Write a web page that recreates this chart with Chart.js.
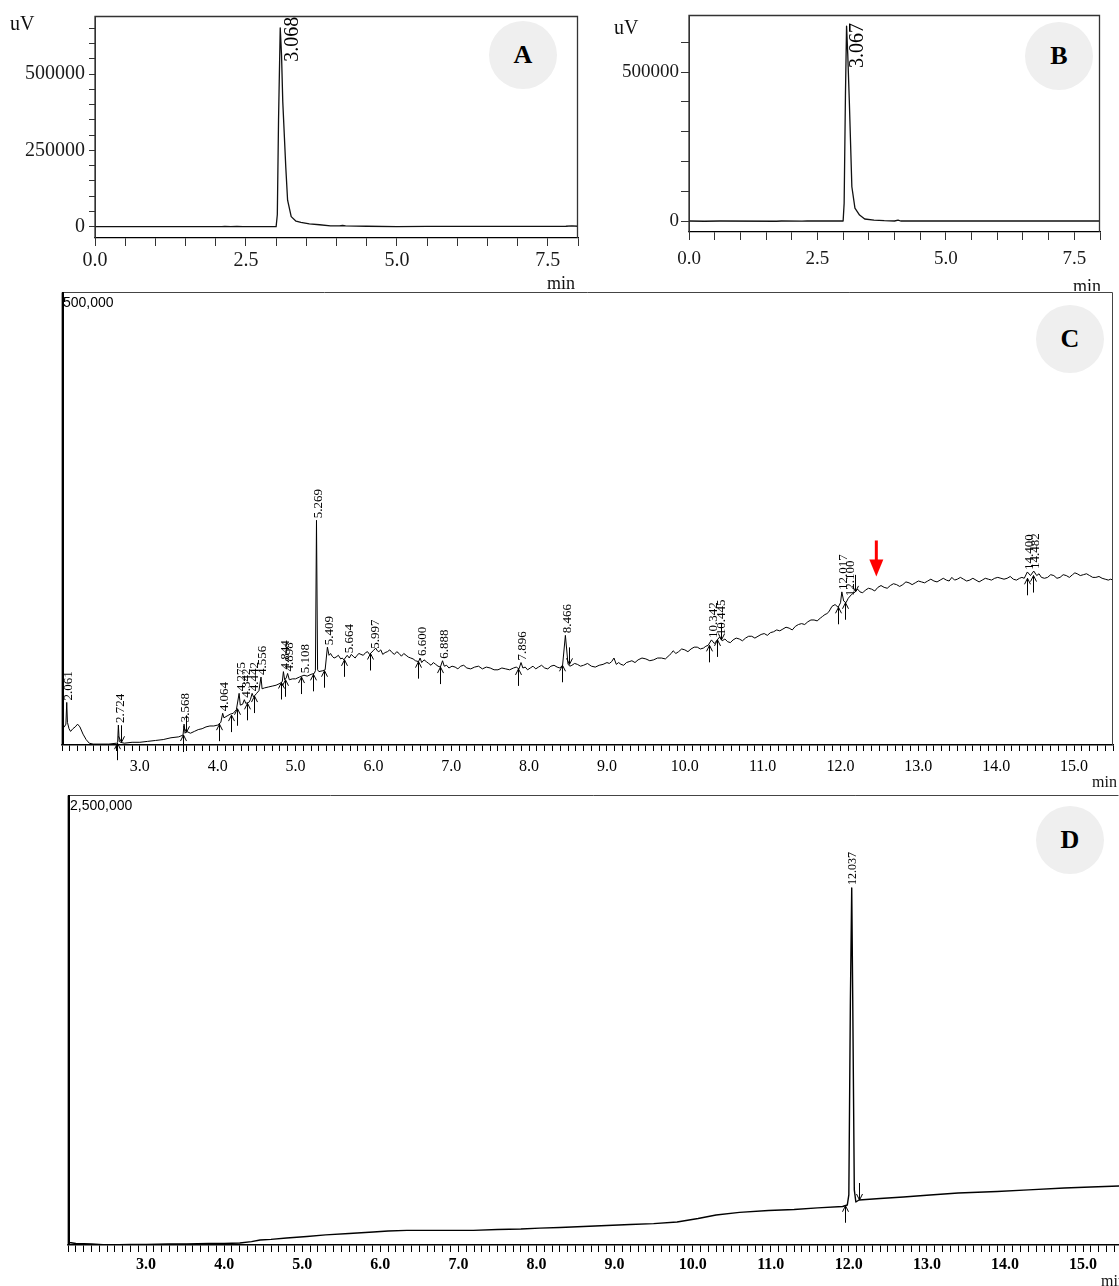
<!DOCTYPE html>
<html><head><meta charset="utf-8">
<script src="https://cdn.jsdelivr.net/npm/chart.js@4.4.1/dist/chart.umd.min.js"></script>
<style>
html,body{margin:0;padding:0;background:#fff;}
body{width:1119px;height:1286px;position:relative;overflow:hidden;font-family:"Liberation Serif","Times New Roman",serif;}
canvas{position:absolute;}
.t{position:absolute;color:#111;white-space:nowrap;line-height:1;}
.sans{font-family:"Liberation Sans",Arial,sans-serif;color:#000;}
.clip{position:absolute;overflow:hidden;}
.circ{position:absolute;border-radius:50%;background:#efefef;display:flex;align-items:center;justify-content:center;font-weight:bold;font-size:26px;color:#000;}
</style></head><body>
<div class="circ" style="left:489px;top:21px;width:68px;height:68px">A</div>
<div class="circ" style="left:1025px;top:22px;width:68px;height:68px">B</div>
<div class="circ" style="left:1036px;top:305px;width:68px;height:68px">C</div>
<div class="circ" style="left:1036px;top:806px;width:68px;height:68px">D</div>

<canvas id="cA" width="600" height="290" style="left:0;top:0"></canvas>
<canvas id="cB" width="519" height="290" style="left:600px;top:0"></canvas>
<canvas id="cC" width="1119" height="500" style="left:0;top:290px"></canvas>
<canvas id="cD" width="1119" height="496" style="left:0;top:790px"></canvas>

<div class="t" style="left:10px;top:13px;font-size:20px">uV</div>
<div class="t" style="left:547px;top:274px;font-size:18px">min</div>
<div class="t" style="left:614px;top:17px;font-size:20px">uV</div>
<div class="clip" style="left:1068px;top:270px;width:51px;height:21px"><div class="t" style="left:5px;top:7px;font-size:18px">min</div></div>
<div class="t sans" style="left:63px;top:295px;font-size:14px">500,000</div>
<div class="t" style="left:1092px;top:774px;font-size:16px">min</div>
<div class="t sans" style="left:70px;top:798px;font-size:14px">2,500,000</div>
<div class="t" style="left:1101px;top:1273px;font-size:16px">min</div>

<script>
// ---------------- DATA ----------------
// Panel A (uV vs min)
const aTimes  = [0,1.0,2.1,2.15,2.25,2.35,2.45,3.00,3.02,3.04,3.068,3.09,3.11,3.16,3.19,3.25,3.33,3.41,3.55,3.72,3.9,4.05,4.1,4.15,4.5,5.0,5.5,6.5,7.5,7.8,7.9,8.0];
const aValues = [0,0,0,1200,0,1000,0,0,40000,350000,652000,560000,410000,195000,87000,33000,18000,14000,9000,6500,3000,2500,4000,2500,1500,500,1000,1000,1000,1500,2500,1500];
const aPeakTimes = [3.068];
const aPeakHeights = [652000];

// Panel B (uV vs min)
const bTimes  = [0,0.3,0.6,1.7,1.8,2.2,2.3,3.00,3.02,3.045,3.067,3.09,3.12,3.17,3.23,3.32,3.42,3.6,3.8,4.0,4.07,4.12,5.0,6.0,7.0,8.0];
const bValues = [0,-800,0,-800,0,-600,0,0,60000,420000,654000,560000,406000,115000,43000,20000,6700,3000,1000,0,3000,0,0,0,0,0];
const bPeakTimes = [3.067];
const bPeakHeights = [654000];

// Panel C (thousands of uV vs min)
const cTimes = [
 2.000,2.006,2.012,2.03,2.05,2.061,2.07,2.09,2.11,2.14,
 2.17,2.20,2.23,2.27,2.31,2.35,2.40,2.50,2.60,2.70,
 2.715,2.724,2.735,2.75,2.80,2.90,3.00,3.10,3.20,3.30,
 3.40,3.50,3.555,3.568,3.58,3.60,3.65,3.70,3.75,3.80,
 3.85,3.90,3.95,4.00,4.04,4.064,4.08,4.12,4.16,4.20,
 4.24,4.275,4.29,4.32,4.342,4.36,4.40,4.42,4.442,4.46,
 4.50,4.53,4.556,4.57,4.60,4.65,4.70,4.75,4.80,4.83,
 4.844,4.86,4.88,4.898,4.92,4.96,5.00,5.05,5.108,5.15,
 5.20,5.24,5.255,5.269,5.283,5.30,5.35,5.38,5.409,5.43,
 5.45,5.47,5.495,5.52,5.55,5.58,5.60,5.62,5.664,5.69,
 5.715,5.74,5.765,5.79,5.815,5.84,5.87,5.90,5.925,5.95,
 5.997,6.03,6.05,6.07,6.095,6.12,6.15,6.18,6.21,6.24,
 6.27,6.30,6.33,6.36,6.39,6.42,6.45,6.48,6.51,6.54,
 6.58,6.600,6.62,6.65,6.68,6.71,6.74,6.77,6.80,6.83,
 6.86,6.888,6.91,6.94,6.97,7.01,7.05,7.085,7.12,7.16,
 7.20,7.25,7.30,7.35,7.40,7.45,7.50,7.55,7.60,7.65,
 7.70,7.75,7.80,7.835,7.87,7.896,7.92,7.95,7.98,8.015,
 8.05,8.085,8.12,8.16,8.20,8.24,8.28,8.32,8.36,8.395,
 8.43,8.466,8.50,8.525,8.55,8.585,8.62,8.66,8.70,8.75,
 8.80,8.85,8.90,8.95,9.00,9.03,9.06,9.09,9.12,9.15,
 9.18,9.215,9.25,9.285,9.32,9.36,9.40,9.45,9.50,9.55,
 9.60,9.65,9.70,9.75,9.80,9.825,9.85,9.885,9.92,9.96,
 10.00,10.04,10.08,10.12,10.16,10.20,10.24,10.27,10.30,10.342,
 10.38,10.445,10.48,10.515,10.55,10.585,10.62,10.66,10.70,10.74,
 10.78,10.82,10.86,10.90,10.94,10.98,11.02,11.06,11.10,11.14,
 11.18,11.22,11.26,11.30,11.34,11.38,11.42,11.46,11.50,11.54,
 11.58,11.62,11.66,11.70,11.74,11.77,11.80,11.825,11.85,11.87,
 11.89,11.93,11.97,12.00,12.017,12.04,12.07,12.100,12.14,12.19,
 12.22,12.25,12.285,12.32,12.36,12.40,12.44,12.48,12.52,12.56,
 12.60,12.64,12.68,12.72,12.76,12.80,12.84,12.88,12.92,12.96,
 13.00,13.04,13.08,13.12,13.16,13.20,13.24,13.28,13.32,13.36,
 13.395,13.43,13.465,13.50,13.54,13.58,13.62,13.66,13.70,13.74,
 13.78,13.82,13.86,13.90,13.94,13.98,14.02,14.06,14.10,14.14,
 14.18,14.22,14.26,14.30,14.33,14.36,14.400,14.44,14.482,14.52,
 14.55,14.58,14.62,14.66,14.70,14.74,14.78,14.82,14.86,14.90,
 14.94,14.98,15.01,15.04,15.08,15.12,15.16,15.20,15.24,15.28,
 15.32,15.36,15.40,15.44,15.47,15.50];
const cValuesK = [
 14,149,19,20,23,47,25,18,15,18,
 20,23,20,12,6,2,1,1,1,2,
 3,22,4,3,2,3,3,4,5,6,
 8,9,11,23,13,15,13,15,17,18,
 20,21,21,22,25,35,30,32,34,35,
 39,57,44,45,50,46,47,50,57,53,
 57,60,75,62,63,64,65,66,68,70,
 81,72,74,79,72,73,73,75,77,76,
 78,79,82,248,83,81,82,83,108,99,
 101,98,96,97,99,95,96,94,99,96,
 100,98,96,99,101,100,99,102,103,100,
 104,107,104,103,105,100,102,103,105,102,
 100,103,101,98,101,99,97,96,95,93,
 92,96,91,94,92,90,88,91,89,87,
 86,93,87,88,85,87,86,84,87,88,
 85,84,86,87,84,86,85,83,83,85,
 84,83,85,86,84,91,85,86,83,85,
 87,84,86,88,85,84,87,88,86,85,
 88,121,89,87,88,90,89,87,88,90,
 87,86,88,89,91,90,92,96,89,91,
 89,88,91,92,93,91,94,96,95,93,
 94,96,96,95,99,101,104,101,103,106,
 105,103,106,108,108,106,107,109,110,116,
 112,119,115,117,114,113,116,118,117,115,
 118,120,120,118,120,122,123,121,124,125,
 127,126,128,130,129,127,131,133,134,133,
 136,138,138,137,140,142,144,145,147,150,
 153,155,152,157,169,159,157,162,166,169,
 172,169,168,171,173,172,170,174,176,174,
 173,176,178,177,175,177,180,179,177,179,
 181,180,179,181,183,181,180,182,184,182,
 181,185,182,183,185,183,181,182,184,182,
 180,182,184,183,182,184,185,184,183,184,
 186,183,182,184,185,184,191,187,192,187,
 189,185,184,185,188,187,184,185,188,187,
 185,188,190,189,187,188,189,187,185,185,
 186,184,183,182,183,182];
const cPeakTimes = [2.061,2.724,3.568,4.064,4.275,4.342,4.442,4.556,4.844,4.898,5.108,5.269,5.409,5.664,5.997,6.600,6.888,7.896,8.466,10.342,10.445,12.017,12.100,14.400,14.482];
const cPeakHeightsK = [47,22,23,35,57,50,57,75,81,79,77,248,108,99,104,96,93,91,121,116,119,169,162,191,192];
const cMarkTimes = [2.71,2.76,3.55,3.59,4.02,4.17,4.25,4.37,4.47,4.81,4.86,5.07,5.22,5.37,5.62,5.96,6.57,6.86,7.86,8.42,8.51,10.31,10.41,10.47,11.97,12.06,12.19,14.39,14.47];
const cMarkValuesK = [2,3,11,14,23,33,40,46,54,69,72,75,78,82,94,101,92,86,84,88,89,110,116,116,152,157,169,184,187];
const cMarkDirs = ['u','d','u','d','u','u','u','u','u','u','u','u','u','u','u','u','u','u','u','u','d','u','u','d','u','u','d','u','u'];
const cArrow = {t:12.46, vK:186};

// Panel D (thousands of uV vs min)
const dTimes = [
 2.00,2.02,2.10,2.30,2.50,2.80,3.00,3.30,3.52,3.80,
 4.00,4.20,4.35,4.46,4.60,4.80,5.06,5.30,5.60,5.91,
 6.10,6.34,6.60,6.90,7.19,7.50,7.80,8.04,8.30,8.60,
 8.90,9.20,9.50,9.80,10.07,10.30,10.60,10.97,11.30,11.60,
 11.92,11.98,12.00,12.02,12.037,12.05,12.07,12.09,12.13,12.40,
 12.70,13.04,13.40,13.90,14.30,14.76,15.10,15.50];
const dValuesK = [
 39,14,8,6,0,3,3,6,6,8,
 8,11,19,28,31,39,47,56,64,72,
 78,81,81,81,81,86,89,94,97,103,
 108,114,119,128,147,167,181,192,197,206,
 214,222,278,1361,1983,1361,306,239,250,258,
 267,278,289,297,306,317,322,328];
const dPeakTimes = [12.037];
const dPeakHeightsK = [1983];
const dMarkTimes = [11.95,12.13];
const dMarkValuesK = [218,250];
const dMarkDirs = ['u','d'];

// Axis ticks
const abXLabelTicks = [0,2.5,5,7.5];
const abXTickStep = 0.5;
const aYLabelTicks = [0,250000,500000];
const aYTickStep = 50000;
const bYLabelTicks = [0,500000];
const bYTickStep = 100000;
const cdXLabelTicks = [3,4,5,6,7,8,9,10,11,12,13,14,15];
const cdXTickStep = 0.1;

// ---------------- HELPERS ----------------
function range(a,b,step){const out=[];const n=Math.round((b-a)/step);for(let i=0;i<=n;i++){out.push(Math.round((a+i*step)*1000)/1000);}return out;}

function chromoPlugin(o){
  return {id:'chromo_'+o.key, afterDraw(chart){
    const ctx=chart.ctx, a=chart.chartArea, xs=chart.scales.x, ys=chart.scales.y;
    ctx.save();
    ctx.strokeStyle=o.frameColor; ctx.lineWidth=o.frameWidth;
    ctx.beginPath();
    ctx.moveTo(a.left,a.bottom); ctx.lineTo(a.left,a.top+0.5); ctx.lineTo(a.right-0.5,a.top+0.5);
    if(o.rightBorder){ctx.lineTo(a.right-0.5,a.bottom);}
    ctx.stroke();
    if(o.leftWidth){ctx.strokeStyle='#000';ctx.lineWidth=o.leftWidth;ctx.beginPath();ctx.moveTo(a.left+o.leftWidth/2,a.top);ctx.lineTo(a.left+o.leftWidth/2,a.bottom);ctx.stroke();}
    if(o.marks){
      ctx.strokeStyle='#000'; ctx.lineWidth=1;
      o.marks.times.forEach((t,i)=>{
        const x=Math.round(xs.getPixelForValue(t))+0.5, y=ys.getPixelForValue(o.marks.values[i]*o.scaleMul);
        const s=o.marks.dirs[i]==='u'?1:-1;
        ctx.beginPath();
        ctx.moveTo(x,y+s*17); ctx.lineTo(x,y);
        ctx.moveTo(x-3,y+s*6); ctx.lineTo(x,y); ctx.lineTo(x+3,y+s*6);
        ctx.stroke();
      });
    }
    ctx.fillStyle='#000'; ctx.font=o.labelFont; ctx.textAlign='left'; ctx.textBaseline='middle';
    o.peaks.times.forEach((t,i)=>{
      const x=xs.getPixelForValue(t)+o.labelDx, y=ys.getPixelForValue(o.peaks.heights[i]*o.scaleMul)+o.labelDy;
      ctx.save(); ctx.translate(x,y); ctx.rotate(-Math.PI/2); ctx.fillText(t.toFixed(3),0,0); ctx.restore();
    });
    if(o.arrow){
      const x=xs.getPixelForValue(o.arrow.t), y=ys.getPixelForValue(o.arrow.vK*o.scaleMul);
      ctx.strokeStyle='#ff0000'; ctx.fillStyle='#ff0000'; ctx.lineWidth=3;
      ctx.beginPath(); ctx.moveTo(x,y-36); ctx.lineTo(x,y-13); ctx.stroke();
      ctx.beginPath(); ctx.moveTo(x-7,y-17); ctx.lineTo(x+7,y-17); ctx.lineTo(x,y); ctx.closePath(); ctx.fill();
    }
    ctx.restore();
  }};
}

function makeChart(id,o){
  const pts=o.times.map((t,i)=>({x:t,y:o.values[i]*o.scaleMul}));
  const xLabelSet=new Set(o.xLabels.map(v=>Math.round(v*100)));
  const xTicks=range(o.xMin,o.xTickEnd,o.xStep);
  let yCfg;
  if(o.yAxis){
    const yLabelSet=new Set(o.yAxis.labels);
    const yTicks=range(0,o.yAxis.tickEnd,o.yAxis.step);
    yCfg={type:'linear',min:o.yMin,max:o.yMax,
      afterBuildTicks:s=>{s.ticks=yTicks.map(v=>({value:v}));},
      afterFit:s=>{s.width=o.yAxis.width;},
      ticks:{autoSkip:false,padding:o.yAxis.pad,color:'#1a1a1a',font:o.yAxis.font,
        callback:v=>yLabelSet.has(v)?String(v):''},
      grid:{drawOnChartArea:false,drawTicks:true,tickLength:o.yAxis.tickLen,color:'#333',lineWidth:1},
      border:{display:true,color:'#333',width:1}};
  } else {
    yCfg={type:'linear',display:false,min:o.yMin,max:o.yMax};
  }
  return new Chart(document.getElementById(id),{
    type:'line',
    data:{datasets:[{data:pts,borderColor:o.lineColor,borderWidth:o.lineWidth,pointRadius:0,tension:0,fill:false,borderJoinStyle:'round'}]},
    options:{responsive:false,animation:false,events:[],
      layout:{padding:o.padding},
      plugins:{legend:{display:false},tooltip:{enabled:false}},
      scales:{
        x:{type:'linear',min:o.xMin,max:o.xMax,
          afterBuildTicks:s=>{s.ticks=xTicks.map(v=>({value:v}));},
          afterFit:s=>{s.height=o.xAxisHeight;},
          ticks:{autoSkip:false,maxRotation:0,minRotation:0,padding:o.xPad,color:o.xColor,font:o.xFont,
            callback:v=>xLabelSet.has(Math.round(v*100))?v.toFixed(1):''},
          grid:{drawOnChartArea:false,drawTicks:true,tickLength:o.xTickLen,color:o.xTickColor,lineWidth:1},
          border:{display:true,color:'#000',width:o.xBorderWidth}},
        y:yCfg
      }
    },
    plugins:[chromoPlugin(o)]
  });
}

// ---------------- CHARTS ----------------
makeChart('cA',{key:'A',times:aTimes,values:aValues,scaleMul:1,
  xMin:0,xMax:8,xTickEnd:8,xStep:abXTickStep,xLabels:abXLabelTicks,
  yMin:-37000,yMax:690700,
  padding:{left:0,top:13,right:22,bottom:0},xAxisHeight:52,
  xPad:3,xTickLen:8,xBorderWidth:1.3,xColor:'#1a1a1a',xTickColor:'#333',
  xFont:{family:'Liberation Serif',size:20},
  yAxis:{labels:aYLabelTicks,step:aYTickStep,tickEnd:650000,width:95,pad:4,tickLen:6,font:{family:'Liberation Serif',size:20}},
  lineColor:'#111',lineWidth:1.3,frameColor:'#333',frameWidth:1.3,rightBorder:true,
  peaks:{times:aPeakTimes,heights:aPeakHeights},labelFont:'20px "Liberation Serif"',labelDx:13,labelDy:34});

makeChart('cB',{key:'B',times:bTimes,values:bValues,scaleMul:1,
  xMin:0,xMax:8,xTickEnd:8,xStep:abXTickStep,xLabels:abXLabelTicks,
  yMin:-36900,yMax:691300,
  padding:{left:0,top:15,right:19,bottom:0},xAxisHeight:58,
  xPad:8,xTickLen:8,xBorderWidth:1.3,xColor:'#1a1a1a',xTickColor:'#333',
  xFont:{family:'Liberation Serif',size:19},
  yAxis:{labels:bYLabelTicks,step:bYTickStep,tickEnd:600000,width:89,pad:2,tickLen:8,font:{family:'Liberation Serif',size:19}},
  lineColor:'#111',lineWidth:1.3,frameColor:'#333',frameWidth:1.3,rightBorder:true,
  peaks:{times:bPeakTimes,heights:bPeakHeights},labelFont:'20px "Liberation Serif"',labelDx:11,labelDy:42});

makeChart('cC',{key:'C',times:cTimes,values:cValuesK,scaleMul:1000,
  xMin:2,xMax:15.5,xTickEnd:15.5,xStep:cdXTickStep,xLabels:cdXLabelTicks,
  yMin:0,yMax:500000,
  padding:{left:62,top:2,right:4,bottom:0},xAxisHeight:45,
  xPad:6,xTickLen:6,xBorderWidth:1.5,xColor:'#000',xTickColor:'#000',
  xFont:{family:'Liberation Serif',size:16},
  yAxis:null,
  lineColor:'#000',lineWidth:1,frameColor:'#444',frameWidth:1,rightBorder:true,leftWidth:2,
  peaks:{times:cPeakTimes,heights:cPeakHeightsK},labelFont:'13px "Liberation Serif"',labelDx:2,labelDy:-2,
  marks:{times:cMarkTimes,values:cMarkValuesK,dirs:cMarkDirs},arrow:cArrow});

makeChart('cD',{key:'D',times:dTimes,values:dValuesK,scaleMul:1000,
  xMin:2,xMax:15.46,xTickEnd:15.4,xStep:cdXTickStep,xLabels:cdXLabelTicks,
  yMin:0,yMax:2500000,
  padding:{left:68,top:5,right:0,bottom:0},xAxisHeight:41,
  xPad:3,xTickLen:7,xBorderWidth:1.5,xColor:'#000',xTickColor:'#000',
  xFont:{family:'Liberation Serif',size:16,weight:'bold'},
  yAxis:null,
  lineColor:'#000',lineWidth:1.4,frameColor:'#444',frameWidth:1,rightBorder:false,leftWidth:2,
  peaks:{times:dPeakTimes,heights:dPeakHeightsK},labelFont:'12px "Liberation Serif"',labelDx:1,labelDy:-3,
  marks:{times:dMarkTimes,values:dMarkValuesK,dirs:dMarkDirs}});
</script>
</body></html>
